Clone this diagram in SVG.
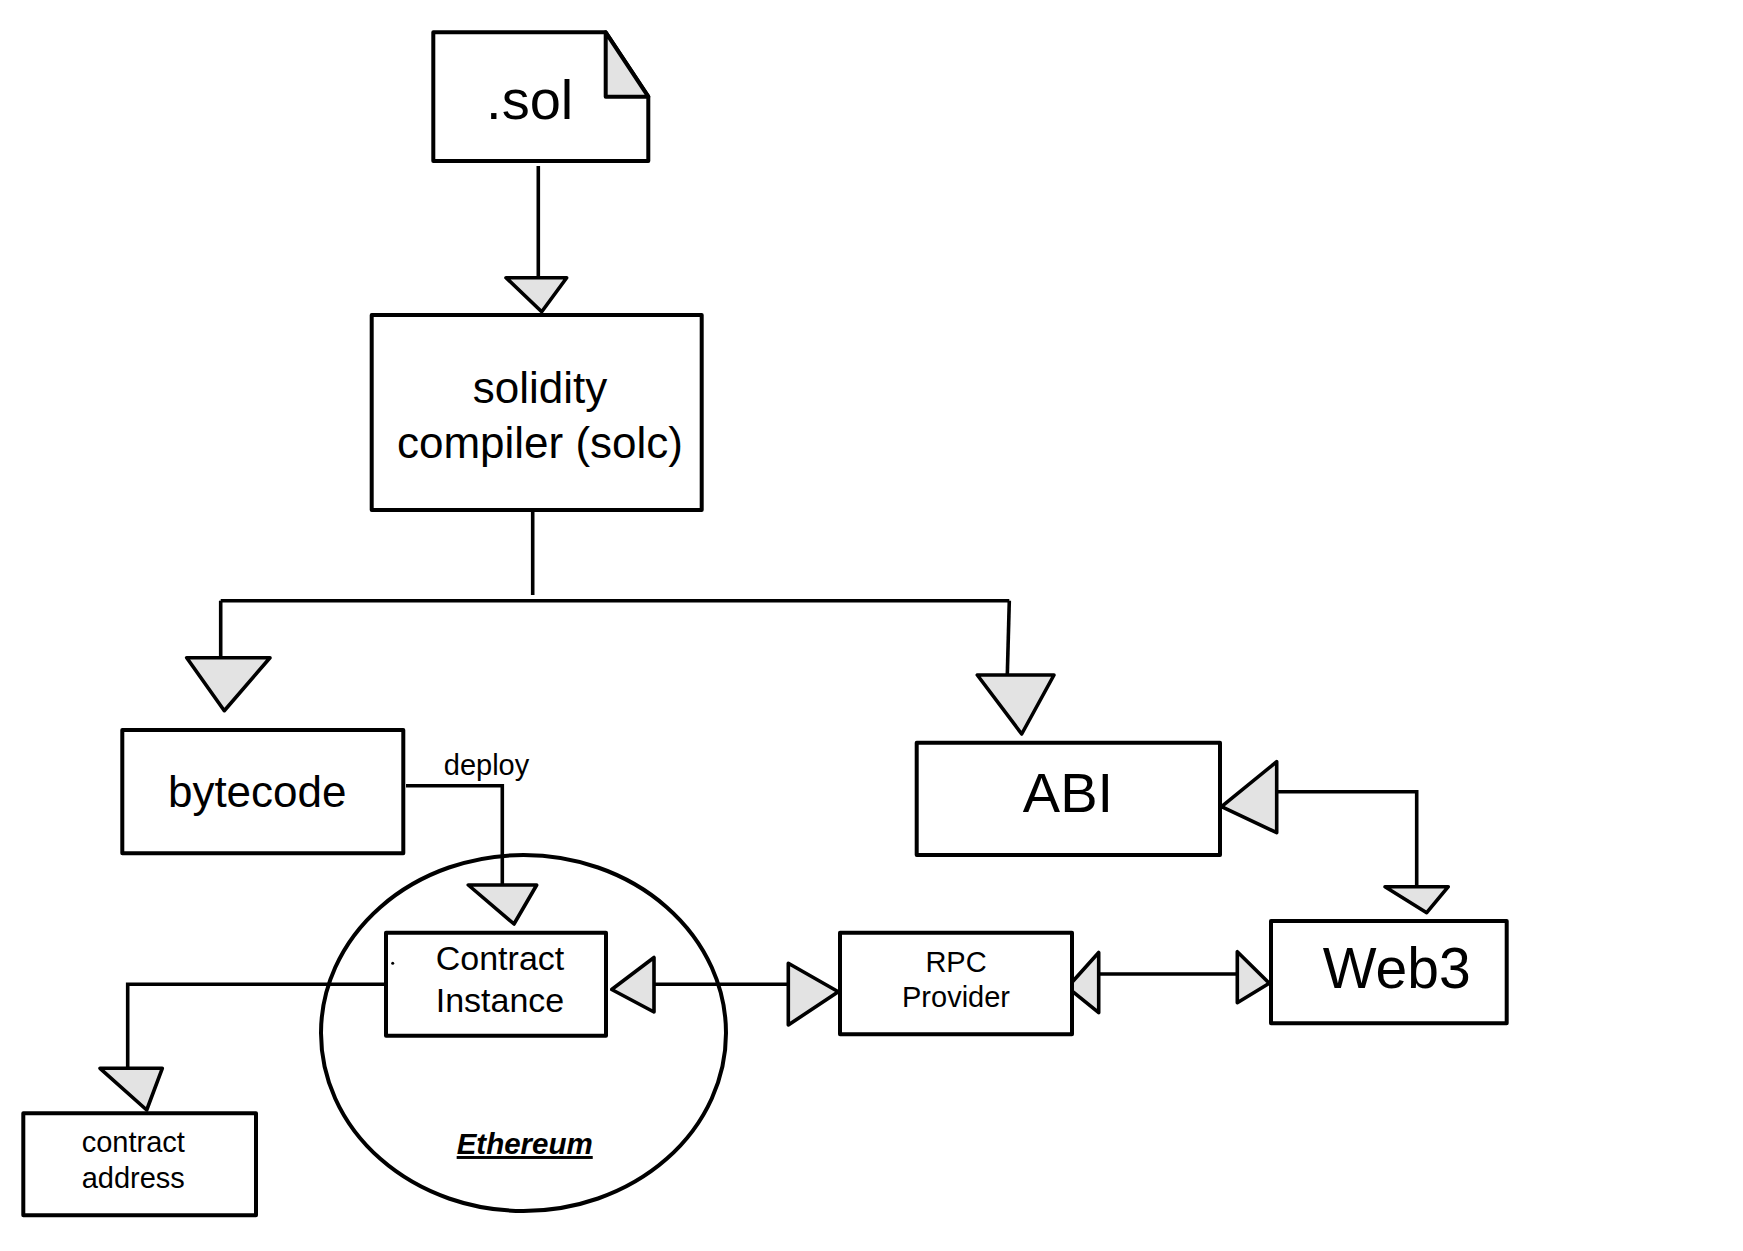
<svg xmlns="http://www.w3.org/2000/svg" width="1743" height="1251" viewBox="0 0 1743 1251">
<defs>
<style>
.box{fill:#ffffff;stroke:#000;stroke-width:4;stroke-linejoin:round}
.ln{fill:none;stroke:#000;stroke-width:3.6;stroke-linejoin:miter}
.ah{fill:#e3e3e3;stroke:#000;stroke-width:3.6;stroke-linejoin:round}
.t{font-family:"Liberation Sans",Arial,Helvetica,sans-serif;fill:#000;text-anchor:middle}
</style>
</defs>
<rect x="0" y="0" width="1743" height="1251" fill="#ffffff"/>

<g id="ethereum">
<ellipse cx="523.5" cy="1033" rx="202.5" ry="178" fill="none" stroke="#000" stroke-width="4"/>
<text class="t" x="524.7" y="1154" font-size="29.5" font-weight="bold" font-style="italic" text-decoration="underline">Ethereum</text>
</g>

<g id="connectors">
<line class="ln" x1="538.3" y1="166" x2="538.3" y2="278"/>
<polygon class="ah" points="506,277.7 566.7,277.7 541.7,311.7"/>

<line class="ln" x1="532.7" y1="510" x2="532.7" y2="595"/>
<line class="ln" x1="220.7" y1="600.7" x2="1009.3" y2="600.7"/>
<line class="ln" x1="220.7" y1="600.7" x2="220.7" y2="657.7"/>
<polygon class="ah" points="186.7,657.7 270,657.7 224.3,710.7"/>
<line class="ln" x1="1009.3" y1="600.7" x2="1007.3" y2="675"/>
<polygon class="ah" points="977.3,675 1054,675 1021.7,734"/>

<polyline class="ln" points="406,785.7 502.3,785.7 502.3,885"/>
<polygon class="ah" points="468.3,885 536.7,885 514,924"/>

<polyline class="ln" points="386.7,984.3 127.7,984.3 127.7,1068.3"/>
<polygon class="ah" points="100,1068.3 162.3,1068.3 146.7,1110"/>

<line class="ln" x1="655" y1="984.3" x2="788.3" y2="984.3"/>
<polygon class="ah" points="611.7,989.5 654,957.5 654,1012"/>
<polygon class="ah" points="788.3,963.3 788.3,1025 838.3,991.7"/>

<line class="ln" x1="1098.5" y1="974" x2="1237.3" y2="974"/>
<polygon class="ah" points="1067.5,987.3 1098.7,952.5 1098.7,1012.7"/>
<polygon class="ah" points="1237.3,951.7 1237.3,1002.7 1269.3,983.3"/>

<polyline class="ln" points="1276.7,791.7 1416.7,791.7 1416.7,886.7"/>
<polygon class="ah" points="1221.5,806.7 1276.7,761.7 1276.7,832.7"/>
<polygon class="ah" points="1385,886.7 1448.3,886.7 1426.7,912.7"/>

<text class="t" x="486.5" y="775" font-size="29">deploy</text>
</g>

<g id="sol">
<path class="box" d="M433.3,32.3 L605.7,32.3 L648.3,96.7 L648.3,161 L433.3,161 Z"/>
<path d="M605.7,32.3 L648.3,96.7 L605.7,96.7 Z" fill="#e3e3e3" stroke="#000" stroke-width="4" stroke-linejoin="round"/>
<text class="t" x="529.7" y="119.3" font-size="56">.sol</text>
</g>

<g id="solc">
<rect class="box" x="371.7" y="315" width="330" height="195"/>
<text class="t" x="540" y="403" font-size="44">solidity</text>
<text class="t" x="540" y="458.3" font-size="44">compiler (solc)</text>
</g>

<g id="bytecode">
<rect class="box" x="122.3" y="730" width="281" height="123.3"/>
<text class="t" x="257.2" y="806.7" font-size="44">bytecode</text>
</g>

<g id="abi">
<rect class="box" x="916.7" y="742.7" width="303.3" height="112.3"/>
<text class="t" x="1068" y="811.7" font-size="56">ABI</text>
</g>

<g id="web3">
<rect class="box" x="1271" y="921" width="235.7" height="102.3"/>
<text class="t" x="1396.7" y="988.3" font-size="57">Web3</text>
</g>

<g id="contract-instance">
<rect class="box" x="386" y="932.7" width="220" height="103"/>
<circle cx="392.7" cy="963.3" r="1.5" fill="#000"/>
<text class="t" x="500" y="970" font-size="34">Contract</text>
<text class="t" x="500" y="1012.3" font-size="34">Instance</text>
</g>

<g id="rpc-provider">
<rect class="box" x="840" y="932.7" width="232" height="101.6"/>
<text class="t" x="956" y="971.7" font-size="29">RPC</text>
<text class="t" x="956" y="1006.7" font-size="29">Provider</text>
</g>

<g id="contract-address">
<rect class="box" x="23.3" y="1113.3" width="232.7" height="102"/>
<text class="t" x="133.3" y="1152.3" font-size="29">contract</text>
<text class="t" x="133.3" y="1188.3" font-size="29">address</text>
</g>
</svg>
